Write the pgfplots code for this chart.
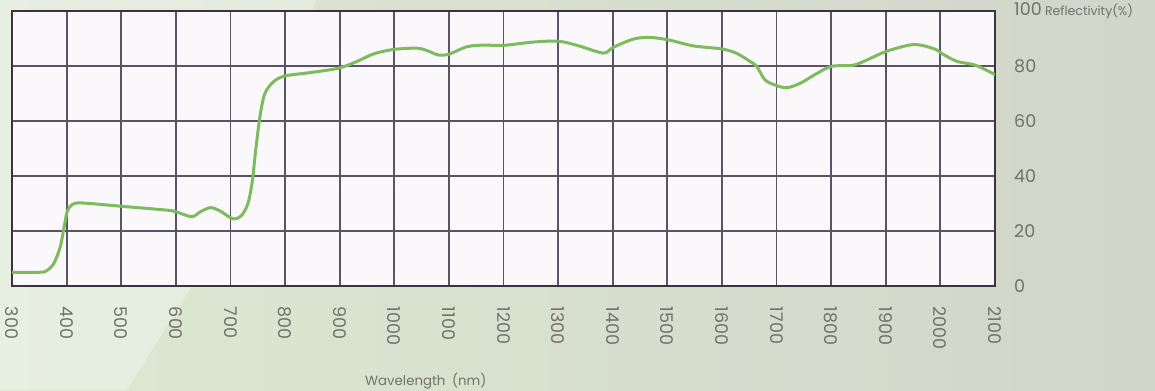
\documentclass[border=0pt]{standalone}
\usepackage{pgfplots}
\pgfplotsset{compat=1.18}
\usepackage{fontspec}
\setmainfont{Poppins}
\definecolor{bgL}{RGB}{221,233,211}
\definecolor{bgR}{RGB}{210,213,201}
\definecolor{plotbg}{RGB}{251,248,252}
\definecolor{gridc}{RGB}{92,82,104}
\definecolor{framec}{RGB}{58,50,64}
\definecolor{curvec}{RGB}{125,187,94}
\definecolor{txt}{RGB}{112,114,106}
\begin{document}
\begin{tikzpicture}
\shade[left color=bgL, right color=bgR] (0,0) rectangle (693pt,234pt);
\fill[white, opacity=0.3] (0,0) -- (76pt,0) .. controls (95pt,30pt) .. (115pt,62pt) -- (190pt,234pt) -- (0,234pt) -- cycle;
\begin{axis}[
  at={(7.2pt,62.4pt)}, anchor=south west,
  scale only axis, width=589.8pt, height=165pt,
  xmin=300, xmax=2100, ymin=0, ymax=100,
  xtick={300,400,...,2100}, ytick={0,20,40,60,80,100},
  yticklabels={0,20,40,60,80,{100\hspace{2pt}{\fontsize{7.5}{9}\selectfont Reflectivity(\%)}}},
  yticklabel pos=right,
  yticklabel style={anchor=west, font=\fontsize{10.5}{12}\selectfont, text=txt},
  yticklabel shift=8pt,
  xticklabel style={rotate=-90, anchor=west, font=\fontsize{10.5}{12}\selectfont, text=txt},
  xticklabel shift=9pt,
  major tick length=0pt,
  grid=major, grid style={gridc, line width=1.1pt},
  axis line style={framec, line width=1.7pt},
  axis background/.style={fill=plotbg},
  /pgf/number format/assume math mode=true,
  /pgf/number format/1000 sep={},
  xlabel={Wavelength\hspace{0.5em}(nm)},
  xlabel style={at={(axis description cs:0.421,0)}, anchor=center, yshift=-57pt, font=\fontsize{8}{10}\selectfont, text=txt},
]
\addplot[curvec, line width=1.8pt, smooth, tension=0.5] coordinates {
(300,5) (350,5) (362,5.4) (376,8) (388,14) (396,22) (401,27) (410,29.6) (428,30.2)
(500,29) (583,27.6) (600,27) (629,25.2) (645,27) (663,28.5) (680,27.4) (705,24.4)
(720,25.6) (732,30) (740,38) (746,49) (754,61.6) (763,70) (779,74.3) (800,76.4)
(846,77.6) (898,79.2) (931,81.6) (962,84.4) (998,86) (1041,86.5) (1060,85.6) (1081,84)
(1100,84.3) (1133,87) (1163,87.6) (1200,87.5) (1254,88.7) (1301,89) (1340,87.2)
(1383,84.7) (1401,86.8) (1438,89.8) (1468,90.4) (1502,89.5) (1548,87.3) (1600,86.2)
(1627,84.6) (1652,81.6) (1664,79.8) (1679,74.9) (1700,72.9) (1719,72.1) (1743,73.7)
(1774,77.3) (1801,79.9) (1841,80.3) (1871,82.7) (1902,85.4) (1951,87.8) (1988,86.3)
(2003,84.5) (2030,81.7) (2064,80.3) (2100,76.9)
};
\end{axis}
\pgfresetboundingbox
\useasboundingbox (0,0) rectangle (693pt,234pt);
\end{tikzpicture}
\end{document}
